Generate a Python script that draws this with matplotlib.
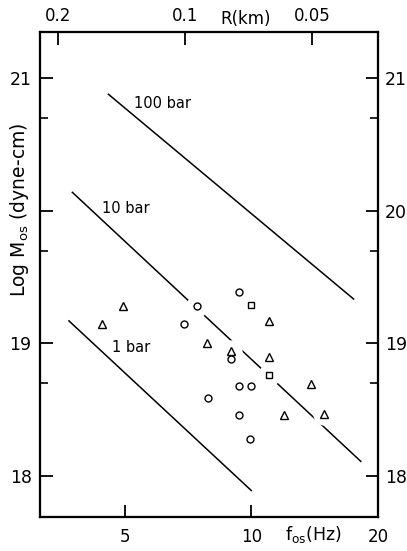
import matplotlib
matplotlib.use("Agg")
import matplotlib.pyplot as plt
from matplotlib.ticker import NullLocator, FixedLocator, FixedFormatter

# stress drop lines (end points): f in Hz, log M0
line_labels = ["100 bar", "10 bar", "1 bar"]
line_f = [[4.58, 17.5], [3.76, 18.2], [3.69, 10.0]]
line_m = [[20.88, 19.335], [20.14, 18.11], [19.17, 17.89]]
label_f = [5.28, 4.41, 4.66]
label_m = [20.81, 20.02, 18.97]

# events
tri_f = [4.95, 4.43, 7.87, 8.97, 11.03, 11.03, 13.87, 11.97, 14.9]
tri_m = [19.28, 19.15, 19.00, 18.94, 19.17, 18.90, 18.69, 18.46, 18.47]
circ_f = [9.37, 7.45, 6.94, 8.97, 9.37, 10.0, 7.91, 9.37, 9.94]
circ_m = [19.39, 19.28, 19.15, 18.88, 18.68, 18.68, 18.59, 18.46, 18.28]
sq_f = [10.0, 11.03]
sq_m = [19.29, 18.76]

# top axis: source radius R (km) = k / f
k_r = 0.697
r_ticks = [0.2, 0.1, 0.05]
r_labels = ["0.2", "0.1", "0.05"]

fig = plt.figure(figsize=(4.07, 5.51), dpi=100)
ax = fig.add_axes([0.0983, 0.0617, 0.8305, 0.8802])

for fs, ms in zip(line_f, line_m):
    ax.plot(fs, ms, color="black", lw=1.1, zorder=2)
for txt, xf, ym in zip(line_labels, label_f, label_m):
    ax.text(xf, ym, txt, fontsize=10.5, ha="left", va="center")

# white halo so the lines break around the symbols
all_f = tri_f + circ_f + sq_f
all_m = tri_m + circ_m + sq_m
ax.plot(all_f, all_m, "o", ms=15, color="white", zorder=3, ls="none")

ax.plot(tri_f, tri_m, "^", ms=6, mfc="white", mec="black", mew=1.0, ls="none", zorder=4)
ax.plot(circ_f, circ_m, "o", ms=5, mfc="white", mec="black", mew=1.0, ls="none", zorder=4)
ax.plot(sq_f, sq_m, "s", ms=4.5, mfc="white", mec="black", mew=1.0, ls="none", zorder=4)

ax.set_xscale("log")
ax.set_xlim(3.15, 20)
ax.set_ylim(17.69, 21.35)

ax.xaxis.set_major_locator(FixedLocator([5, 10, 20]))
ax.xaxis.set_major_formatter(FixedFormatter(["5", "10", "20"]))
ax.xaxis.set_minor_locator(NullLocator())

ax.yaxis.set_major_locator(FixedLocator([18, 19, 20, 21]))
ax.yaxis.set_major_formatter(FixedFormatter(["18", "19", "", "21"]))
ax.yaxis.set_minor_locator(FixedLocator([18.699, 19.699, 20.699]))

ax.tick_params(which="major", direction="in", length=9, width=1.3, labelsize=12.5, pad=6)
ax.tick_params(which="minor", direction="in", length=6, width=1.2)
ax.tick_params(axis="x", pad=8, labelsize=12)

# right axis
axr = ax.twinx()
axr.set_ylim(ax.get_ylim())
axr.yaxis.set_major_locator(FixedLocator([18, 19, 20, 21]))
axr.yaxis.set_major_formatter(FixedFormatter(["18", "19", "20", "21"]))
axr.yaxis.set_minor_locator(FixedLocator([18.699, 19.699, 20.699]))
axr.tick_params(which="major", direction="in", length=9, width=1.3, labelsize=12.5, pad=5)
axr.tick_params(which="minor", direction="in", length=6, width=1.2)

# top axis
axt = ax.twiny()
axt.set_xscale("log")
axt.set_xlim(ax.get_xlim())
axt.xaxis.set_major_locator(FixedLocator([k_r / r for r in r_ticks]))
axt.xaxis.set_major_formatter(FixedFormatter(r_labels))
axt.xaxis.set_minor_locator(NullLocator())
axt.tick_params(which="major", direction="in", length=9, width=1.3, labelsize=12, pad=5)

for a in (ax, axr, axt):
    for s in a.spines.values():
        s.set_linewidth(1.5)

ax.text(0.609, 1.027, "R(km)", transform=ax.transAxes, fontsize=12, ha="center", va="center")
ax.text(0.81, -0.037, r"f$_{\mathrm{os}}$(Hz)", transform=ax.transAxes, fontsize=12.5,
        ha="center", va="center")
ax.text(-0.062, 0.633, r"Log M$_{\mathrm{os}}$ (dyne-cm)", transform=ax.transAxes, fontsize=13.5,
        ha="center", va="center", rotation=90)

fig.savefig("out.png", dpi=100)
